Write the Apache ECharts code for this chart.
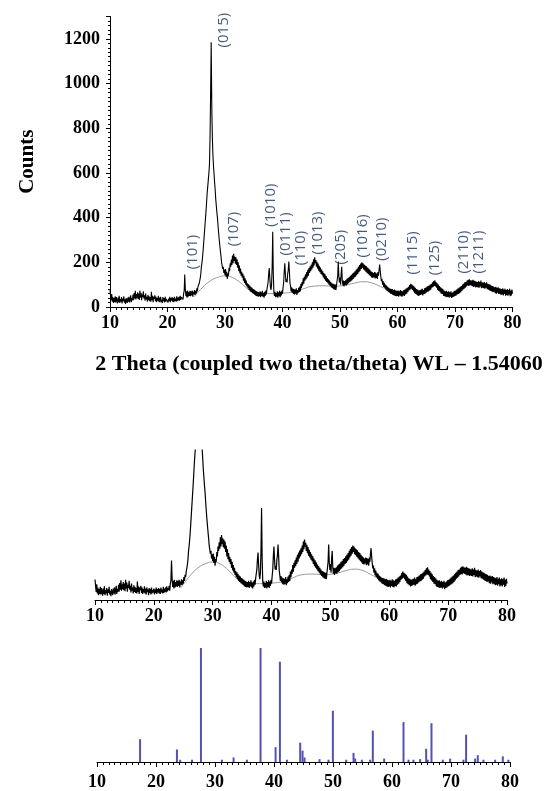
<!DOCTYPE html>
<html>
<head>
<meta charset="utf-8">
<script src="https://cdn.jsdelivr.net/npm/echarts@6/dist/echarts.min.js"></script>
<style>
html, body { margin: 0; padding: 0; background: #fff; }
#main { width: 544px; height: 791px; }
</style>
</head>
<body>
<div id="main"></div>
<script>
// measured scan, one count value every 0.1 deg (2 theta) from 10 to 80
var scanStart = 10;
var scanStep = 0.1;
var counts = [
  75, 52, 30, 58, 24, 45, 18, 40, 22, 48,
  20, 44, 28, 16, 42, 22, 50, 18, 36, 24,
  44, 16, 38, 26, 48, 20, 34, 14, 40, 28,
  18, 42, 24, 46, 20, 36, 52, 22, 40, 30,
  56, 30, 62, 38, 72, 34, 58, 40, 66, 36,
  60, 32, 74, 42, 64, 30, 56, 44, 70, 38,
  52, 28, 60, 34, 46, 24, 54, 30, 48, 26,
  44, 24, 68, 30, 50, 22, 46, 36, 52, 26,
  46, 22, 40, 28, 50, 24, 42, 20, 46, 30,
  38, 18, 44, 26, 40, 20, 46, 24, 36, 28,
  42, 20, 38, 26, 46, 22, 40, 28, 44, 24,
  40, 22, 46, 28, 38, 24, 48, 26, 42, 30,
  46, 28, 50, 32, 44, 36, 52, 34, 60, 72,
  145, 80, 48, 70, 42, 74, 46, 66, 50, 72,
  48, 70, 52, 74, 46, 68, 56, 76, 54, 72,
  60, 84, 70, 92, 84, 104, 108, 130, 150, 182,
  200, 225, 255, 290, 325, 360, 395, 430, 470, 510,
  540, 570, 600, 640, 760, 960, 1185, 900, 760, 680,
  630, 595, 555, 520, 480, 450, 420, 395, 360, 330,
  300, 275, 250, 228, 200, 196, 170, 180, 152, 168,
  142, 170, 136, 158, 126, 150, 140, 176, 160, 196,
  180, 212, 188, 230, 196, 238, 206, 226, 194, 222,
  188, 214, 176, 200, 160, 186, 150, 172, 140, 158,
  132, 150, 118, 140, 108, 128, 100, 118, 92, 106,
  84, 102, 76, 96, 70, 90, 66, 86, 62, 80,
  58, 78, 54, 74, 50, 70, 48, 68, 46, 66,
  48, 70, 44, 66, 50, 72, 46, 64, 42, 68,
  50, 74, 56, 80, 76, 112, 150, 174, 128, 90,
  76, 100, 180, 337, 150, 70, 50, 68, 44, 62,
  46, 70, 42, 66, 48, 72, 44, 68, 52, 74,
  60, 88, 110, 160, 196, 150, 112, 124, 110, 148,
  165, 203, 160, 108, 92, 70, 88, 64, 82, 58,
  80, 56, 78, 60, 84, 54, 76, 62, 86, 66,
  92, 70, 104, 84, 112, 96, 128, 104, 136, 118,
  146, 124, 156, 132, 166, 140, 174, 152, 182, 160,
  190, 168, 200, 176, 214, 186, 222, 196, 210, 180,
  202, 172, 194, 162, 184, 156, 176, 148, 168, 142,
  160, 132, 152, 124, 146, 118, 138, 112, 130, 106,
  124, 100, 118, 94, 112, 88, 106, 84, 104, 80,
  102, 78, 100, 76, 98, 92, 140, 203, 140, 110,
  132, 100, 150, 180, 120, 96, 118, 92, 116, 98,
  120, 96, 126, 102, 130, 106, 134, 112, 140, 116,
  144, 120, 150, 126, 154, 132, 160, 136, 166, 142,
  172, 148, 180, 156, 188, 162, 194, 170, 200, 176,
  196, 168, 190, 164, 186, 158, 182, 152, 176, 148,
  172, 142, 166, 138, 160, 132, 156, 130, 152, 134,
  156, 128, 154, 130, 150, 126, 156, 140, 168, 190,
  160, 136, 116, 126, 100, 116, 90, 108, 84, 100,
  78, 96, 72, 90, 68, 86, 64, 82, 60, 80,
  58, 80, 54, 76, 52, 78, 50, 74, 48, 72,
  50, 74, 46, 70, 52, 76, 48, 72, 46, 70,
  52, 76, 50, 78, 56, 82, 60, 86, 66, 90,
  74, 98, 78, 104, 82, 100, 76, 96, 70, 92,
  62, 86, 58, 80, 54, 78, 50, 74, 52, 76,
  54, 78, 56, 82, 52, 76, 58, 84, 60, 86,
  64, 90, 68, 94, 70, 96, 74, 100, 78, 104,
  86, 110, 90, 116, 94, 120, 92, 112, 86, 106,
  76, 100, 72, 94, 66, 88, 60, 84, 58, 80,
  50, 74, 48, 70, 46, 72, 44, 68, 46, 70,
  42, 66, 46, 70, 40, 64, 44, 68, 46, 72,
  50, 74, 52, 78, 56, 82, 58, 86, 62, 90,
  66, 94, 72, 100, 78, 104, 82, 110, 86, 112,
  92, 118, 96, 122, 94, 124, 98, 120, 96, 118,
  94, 122, 90, 118, 92, 116, 88, 114, 90, 112,
  88, 116, 86, 112, 92, 118, 84, 110, 86, 108,
  84, 112, 82, 106, 86, 110, 80, 104, 78, 102,
  74, 100, 72, 96, 70, 94, 66, 92, 68, 88,
  62, 90, 60, 86, 64, 88, 58, 84, 60, 82,
  54, 80, 56, 84, 52, 78, 58, 82, 50, 76,
  54, 80, 50, 76, 56, 82, 48, 74, 52, 78,
  60
];

// amorphous background drawn under the pattern
var bgTheta  = [24.6, 26, 27.5, 29, 30, 31, 32, 33, 34, 35, 36, 38, 40, 42, 43.5, 45, 47, 49, 51, 52.5, 54, 55.5, 57, 58.5];
var bgCounts = [45, 85, 118, 135, 139, 135, 122, 102, 80, 65, 60, 60, 62, 68, 80, 92, 95, 93, 98, 107, 113, 108, 92, 75];

// (hkl) labels: name, 2 theta, label centre height in counts
var hklNames  = ['(101)', '(015)', '(107)', '(1010)', '(0111)', '(110)', '(1013)', '(205)', '(1016)', '(0210)', '(1115)', '(125)', '(2110)', '(1211)'];
var hklTheta  = [24.4, 29.8, 31.6, 38.0, 40.6, 43.2, 46.2, 50.2, 54.0, 57.3, 62.7, 66.4, 71.6, 74.2];
var hklCounts = [246, 1239, 349, 456, 327, 264, 331, 268, 318, 304, 242, 219, 246, 246];

// reference pattern sticks (2 theta, relative intensity)
var refTheta = [17.3, 23.55, 24.1, 26.1, 27.62, 31.17, 33.15, 35.4, 37.72, 40.27, 41.0, 42.19, 44.44, 44.84, 45.18,
  47.72, 49.24, 49.98, 52.24, 53.48, 53.76, 54.89, 56.3, 56.75, 58.67, 61.95, 62.8, 63.64, 64.77, 65.79,
  66.07, 66.69, 68.61, 69.85, 72.11, 72.56, 74.09, 74.54, 75.5, 77.48, 78.78, 79.73];
var refIntensity = [20, 11, 2, 2, 100, 2, 4, 2, 100, 13, 88, 2, 17, 10, 4,
  2.5, 2, 45, 2, 8, 3, 2, 2, 27.5, 3, 35, 2, 2, 2.5, 11.6,
  2, 34, 2, 3, 2, 24, 3, 6, 2, 2, 5, 2];

var countTicks = [0, 200, 400, 600, 800, 1000, 1200];

var scan = counts.map(function (c, i) {
  return [+(scanStart + i * scanStep).toFixed(1), c];
});
var background = bgTheta.map(function (t, i) { return [t, bgCounts[i]]; });
var hkl = hklNames.map(function (n, i) { return [hklTheta[i], hklCounts[i], n]; });
var sticks = refTheta.map(function (t, i) { return [t, refIntensity[i]]; });

var serif = 'Liberation Serif';
var tickFont = { fontFamily: serif, fontWeight: 'bold', fontSize: 18, color: '#000' };

function thetaAxis(grid, margin) {
  return {
    type: 'value', gridIndex: grid, min: 10, max: 80, interval: 10,
    axisLine: { lineStyle: { color: '#000', width: 1 } },
    axisTick: { length: 5, lineStyle: { color: '#000' } },
    minorTick: { show: true, splitNumber: 10, length: 3, lineStyle: { color: '#000' } },
    splitLine: { show: false },
    axisLabel: Object.assign({ margin: margin }, tickFont)
  };
}

var chart = echarts.init(document.getElementById('main'), null, { renderer: 'canvas' });
chart.setOption({
  animation: false,
  backgroundColor: '#fff',
  title: {
    text: '2 Theta (coupled two theta/theta) WL \u2013 1.54060',
    left: 314, top: 348, textAlign: 'center',
    textStyle: { fontFamily: serif, fontWeight: 'bold', fontSize: 22, color: '#000' }
  },
  grid: [
    { left: 110, right: 31.5, top: 16.5, bottom: 484 },
    { left: 95, right: 37, top: 450, bottom: 191 },
    { left: 97, right: 34, top: 648, bottom: 28 }
  ],
  xAxis: [thetaAxis(0, 7), thetaAxis(1, 7), thetaAxis(2, 11)],
  yAxis: [
    {
      type: 'value', gridIndex: 0, min: 0, max: 1300, interval: 200,
      name: 'Counts', nameLocation: 'middle', nameGap: 72, nameRotate: 90,
      nameTextStyle: { fontFamily: serif, fontWeight: 'bold', fontSize: 21, color: '#000' },
      axisLine: { show: true, lineStyle: { color: '#000', width: 1 } },
      axisTick: { show: true, length: 4, lineStyle: { color: '#000' } },
      minorTick: { show: true, splitNumber: 10, length: 2, lineStyle: { color: '#000' } },
      splitLine: { show: false },
      axisLabel: Object.assign({
        margin: 10,
        formatter: function (v) { return countTicks.indexOf(v) >= 0 ? String(v) : ''; }
      }, tickFont)
    },
    { type: 'value', gridIndex: 1, min: 0, max: 550, show: false, splitLine: { show: false } },
    { type: 'value', gridIndex: 2, min: 0, max: 100, show: false, splitLine: { show: false } }
  ],
  series: [
    {
      type: 'line', xAxisIndex: 0, yAxisIndex: 0, data: background, smooth: true,
      showSymbol: false, lineStyle: { color: '#9a9a9a', width: 1 }, z: 1
    },
    {
      type: 'line', xAxisIndex: 0, yAxisIndex: 0, data: scan,
      showSymbol: false, lineStyle: { color: '#000', width: 1.1 }, z: 2
    },
    {
      type: 'scatter', xAxisIndex: 0, yAxisIndex: 0, data: hkl, symbolSize: 0, z: 3,
      label: {
        show: true, position: 'inside', rotate: 90,
        formatter: function (p) { return p.data[2]; },
        fontFamily: 'Open Sans', fontSize: 15, color: '#17305a'
      }
    },
    {
      type: 'line', xAxisIndex: 1, yAxisIndex: 1, data: background, smooth: true,
      showSymbol: false, lineStyle: { color: '#9a9a9a', width: 1 }, z: 1
    },
    {
      type: 'line', xAxisIndex: 1, yAxisIndex: 1, data: scan,
      showSymbol: false, lineStyle: { color: '#000', width: 1.2 }, z: 2
    },
    {
      type: 'bar', xAxisIndex: 2, yAxisIndex: 2, data: sticks, barWidth: 2,
      itemStyle: { color: '#5252b4' }
    }
  ]
});
</script>
</body>
</html>
